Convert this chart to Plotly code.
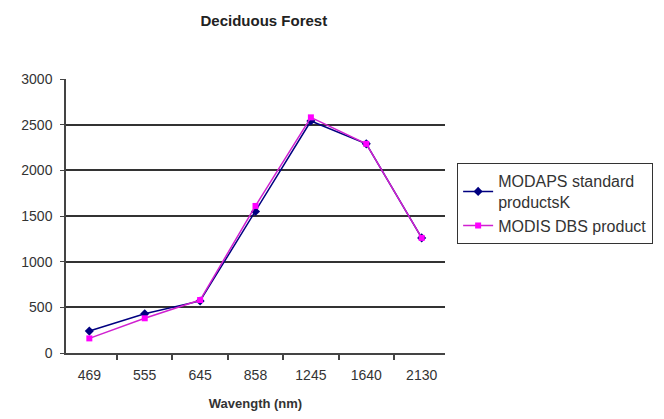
import plotly.graph_objects as go

categories = ["469", "555", "645", "858", "1245", "1640", "2130"]
modaps = [240, 430, 570, 1550, 2540, 2290, 1260]
modis_dbs = [160, 380, 580, 1610, 2580, 2290, 1260]
y_ticks = [0, 500, 1000, 1500, 2000, 2500, 3000]

fig = go.Figure()
fig.add_trace(go.Scatter(
    x=categories, y=modaps, mode="lines+markers",
    name="MODAPS standard<br>productsK",
    line=dict(color="#000080", width=1.5),
    marker=dict(symbol="diamond", size=7, color="#000080"),
))
fig.add_trace(go.Scatter(
    x=categories, y=modis_dbs, mode="lines+markers",
    name="MODIS DBS product",
    line=dict(color="#D020D0", width=1.5),
    marker=dict(symbol="square", size=6, color="#FF00FF"),
))

fig.update_layout(
    width=656, height=411,
    margin=dict(l=58, r=219, t=71, b=66, autoexpand=False),
    paper_bgcolor="white", plot_bgcolor="white",
    font=dict(family="Liberation Sans, Arial, sans-serif", size=14, color="#333"),
    title=dict(text="<b>Deciduous Forest</b>", x=0.39, xanchor="center",
               y=0.97, yanchor="middle", font=dict(size=15, color="#222")),
    showlegend=True,
    legend=dict(x=1.032, y=0.693, xanchor="left", yanchor="top",
                bordercolor="#333", borderwidth=1, bgcolor="white",
                font=dict(size=16, color="#333"), tracegroupgap=8),
    xaxis=dict(type="category", showgrid=False, showline=True, linecolor="#444",
               linewidth=1.5, ticks="outside", tickson="boundaries", ticklen=5,
               tickcolor="#444", tickwidth=1.5, ticklabelstandoff=8, automargin=False,
               title=dict(text="<b>Wavength (nm)</b>", font=dict(size=13), standoff=17)),
    yaxis=dict(range=[0, 3000], tickvals=y_ticks, showgrid=True, gridcolor="#333",
               gridwidth=1.5, showline=True, linecolor="#444", linewidth=1.5,
               ticks="outside", ticklen=4, tickcolor="#444", zeroline=False,
               ticklabelstandoff=5, automargin=False),
)

fig.write_html("out.html")
